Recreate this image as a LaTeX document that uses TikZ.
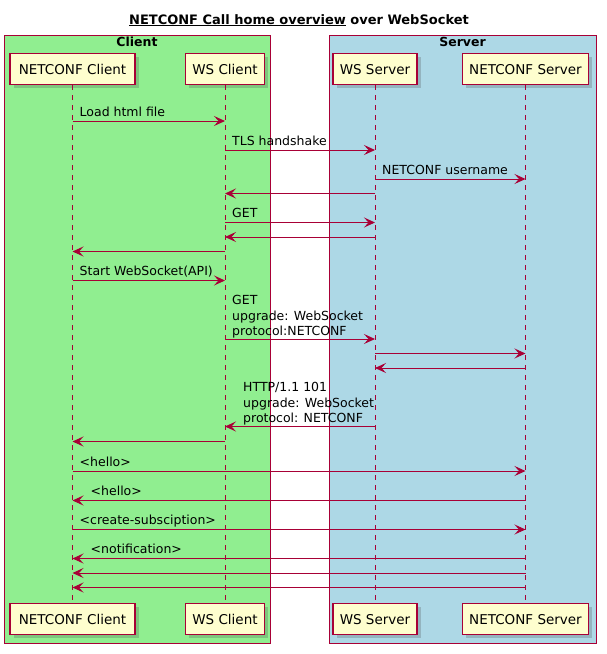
\documentclass[tikz,border=0pt]{standalone}
\usepackage{fontspec}
\setmainfont{DejaVu Sans}
\usetikzlibrary{arrows.meta,shadows,calc}
\definecolor{umlred}{HTML}{A80036}
\definecolor{partfill}{HTML}{FEFECE}
\definecolor{grpgreen}{HTML}{90EE90}
\definecolor{grpblue}{HTML}{ADD8E6}
\newcommand{\msgright}[5]{% from, to, y, name, label
  \draw[msg] (#1 |- 0,#3) -- (#2 |- 0,#3);
  \node[lbl] (#4) at ($(#1 |- 0,#3)+(7,-5)$) {#5};}
\newcommand{\msgleft}[5]{% from, to, y, name, label
  \draw[msg] (#1 |- 0,#3) -- (#2 |- 0,#3);
  \node[lbl] (#4) at ($(#2 |- 0,#3)+(18,-5)$) {#5};}
\newcommand{\msgplain}[3]{%
  \draw[msg] (#1 |- 0,#3) -- (#2 |- 0,#3);}
\begin{document}
\begin{tikzpicture}[x=1pt,y=-1pt,
  part/.style={draw=umlred, line width=1.3pt, fill=partfill, minimum height=31pt,
    inner sep=0pt, font=\fontsize{13.5}{16}\selectfont, anchor=north,
    drop shadow={shadow xshift=3.5pt, shadow yshift=-3.5pt, opacity=0.25, fill=black!70}},
  lifeline/.style={draw=umlred, line width=0.9pt, dash pattern=on 5pt off 5pt},
  msg/.style={draw=umlred, line width=1pt, -{Stealth[length=11pt,width=10pt,inset=4.5pt]}},
  lbl/.style={font=\fontsize{12.5}{15.5}\selectfont, inner sep=0pt, anchor=base west, align=left},
  mlbl/.style={font=\fontsize{12.5}{15.5}\selectfont, inner sep=0pt, anchor=south west, align=left},
  grp/.style={draw=umlred, line width=1pt, inner sep=0pt, anchor=north west},
  grplbl/.style={font=\bfseries\fontsize{12.5}{15}\selectfont, inner sep=0pt, anchor=base},
]
\useasboundingbox (0,0) rectangle (606,654);
\fill[white] (0,0) rectangle (606,654);

% title
\node[font=\bfseries\fontsize{13}{16}\selectfont, inner sep=0pt, anchor=base] (title) at (299,24)
  {\underline{NETCONF Call home overview} over WebSocket};

% groups
\node[grp, fill=grpgreen, minimum width=266pt, minimum height=608.5pt] (gclient) at (4,34.5) {};
\node[grp, fill=grpblue, minimum width=267pt, minimum height=608.5pt] (gserver) at (329,34.5) {};
\node[grplbl] (gclientl) at (137,46) {Client};
\node[grplbl] (gserverl) at (462.5,46) {Server};

% participants
\node[part, minimum width=125pt] (nc) at (72.5,53) {NETCONF Client};
\node[part, minimum width=79pt] (ws) at (225,53) {WS Client};
\node[part, minimum width=84pt] (ss) at (375,53) {WS Server};
\node[part, minimum width=126pt] (ns) at (525.5,53) {NETCONF Server};

\node[part, minimum width=125pt] (ncb) at (72.5,603) {NETCONF Client};
\node[part, minimum width=79pt] (wsb) at (225,603) {WS Client};
\node[part, minimum width=84pt] (ssb) at (375,603) {WS Server};
\node[part, minimum width=126pt] (nsb) at (525.5,603) {NETCONF Server};

% lifelines
\draw[lifeline] (nc.south) -- (ncb.north);
\draw[lifeline] (ws.south) -- (wsb.north);
\draw[lifeline] (ss.south) -- (ssb.north);
\draw[lifeline] (ns.south) -- (nsb.north);

% messages
\msgright{nc}{ws}{121}{m1}{Load html file}
\msgright{ws}{ss}{150}{m2}{TLS handshake}
\msgright{ss}{ns}{179}{m3}{NETCONF username}
\msgplain{ss}{ws}{193.5}
\msgright{ws}{ss}{222.5}{m5}{GET}
\msgplain{ss}{ws}{237}
\msgplain{ws}{nc}{251.5}
\msgright{nc}{ws}{280.5}{m8}{Start WebSocket(API)}

\draw[msg] (ws |- 0,339) -- (ss |- 0,339);
\node[mlbl] (m9) at ($(ws |- 0,339)+(7,-0.5)$) {GET\\upgrade: WebSocket\\protocol:NETCONF};
\msgplain{ss}{ns}{353.5}
\msgplain{ns}{ss}{368}
\draw[msg] (ss |- 0,426.5) -- (ws |- 0,426.5);
\node[mlbl] (m12) at ($(ws |- 0,426.5)+(18,-1)$) {HTTP/1.1 101\\upgrade: WebSocket\\protocol: NETCONF};
\msgplain{ws}{nc}{441.5}

\msgright{nc}{ns}{471}{m14}{<hello>}
\msgleft{ns}{nc}{500.5}{m15}{<hello>}
\msgright{nc}{ns}{529.5}{m16}{<create-subsciption>}
\msgleft{ns}{nc}{558.5}{m17}{<notification>}
\msgplain{ns}{nc}{573}
\msgplain{ns}{nc}{587.5}
\end{tikzpicture}
\end{document}
